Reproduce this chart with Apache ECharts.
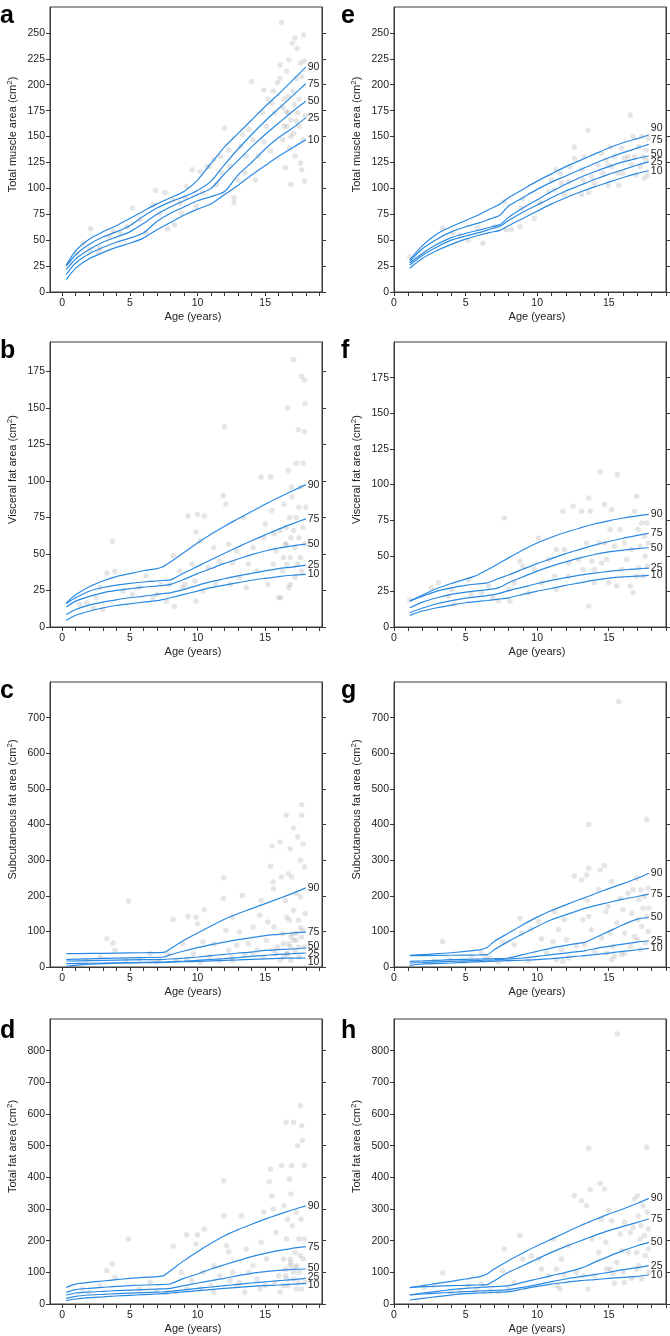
<!DOCTYPE html>
<html>
<head>
<meta charset="utf-8">
<script src="https://cdn.jsdelivr.net/npm/echarts@6/dist/echarts.min.js"></script>
<style>
  html, body { margin: 0; padding: 0; background: #fff; }
  #chart { width: 670px; height: 1336px; }
</style>
</head>
<body>
<div id="chart"></div>
<script>
// percentile names, drawn as end labels
const pctNames = ['90', '75', '50', '25', '10']

// tick values
const xTickAges = [0, 1, 2, 3, 4, 5, 6, 7, 8, 9, 10, 11, 12, 13, 14, 15, 16, 17, 18, 19]
const xLabelAges = [0, 5, 10, 15]
const muscleTicks = [0, 25, 50, 75, 100, 125, 150, 175, 200, 225, 250]
const visceralTicks = [0, 25, 50, 75, 100, 125, 150, 175]
const subcutTicks = [0, 100, 200, 300, 400, 500, 600, 700]
const totalFatTicks = [0, 100, 200, 300, 400, 500, 600, 700, 800]

// a - total muscle area
const aAge = [0.3, 1, 2, 3, 4, 5, 6, 7, 8, 9, 10, 11, 12, 13, 14, 15, 16, 17, 18]
const a90 = [26, 40, 51, 58, 64, 71, 78, 85, 91, 97, 108, 124, 140, 153, 166, 179, 191, 204, 217]
const a75 = [25, 36, 46, 53, 58, 64, 73, 81, 87, 92, 98, 107, 123, 138, 152, 165, 177, 189, 201]
const a50 = [21.5, 32, 41, 48, 53, 58, 66, 75, 82, 88, 94, 100, 114, 127, 140, 152, 163, 174, 184]
const a25 = [17, 28, 37, 43, 48, 52, 57, 68, 76, 82, 88, 92, 97, 113, 125, 138, 149, 158, 168]
const a10 = [12, 23, 32, 38, 43, 47, 52, 60, 67, 74, 80, 85, 94, 103, 113, 122, 131, 139, 147]
const aPts = [
  [2.1, 61], [2.8, 42.5], [2.7, 38.6], [3.5, 52.8], [5.2, 81], [6.2, 57], [6.9, 98], [7.6, 96], [7.8, 61],
  [8.3, 65], [8.7, 86], [9.1, 91], [9.6, 118], [10.2, 116], [9.9, 83], [10.4, 95.5], [10.7, 121], [11.2, 128],
  [11.7, 131], [12.0, 158], [12.3, 137], [12.7, 91], [12.7, 86], [13.0, 108], [13.2, 140.6], [13.5, 115],
  [13.8, 157], [14.0, 203], [14.3, 108], [14.5, 131], [14.8, 173], [14.9, 195], [15.1, 160], [15.2, 186],
  [15.5, 182], [15.6, 194], [15.9, 202], [16.1, 219], [16.2, 260], [16.3, 147], [16.4, 160], [16.5, 120],
  [16.6, 213], [16.7, 173], [16.7, 189], [16.8, 139], [16.9, 166], [17.0, 240], [17.05, 194], [17.1, 153],
  [17.15, 181], [17.2, 245], [17.3, 206], [17.35, 235], [16.9, 104], [17.2, 131], [17.4, 173], [17.5, 160],
  [17.5, 186], [17.6, 124.5], [17.6, 221], [17.7, 208], [17.8, 147], [17.85, 248], [17.9, 223], [17.9, 107],
  [17.95, 170], [17.7, 118], [16.6, 160], [16.4, 186], [16.1, 206], [16.75, 224], [16.55, 174], [15.7, 173],
  [15.4, 136], [14.9, 145], [14.1, 147], [13.6, 131], [13.35, 152], [12.4, 121], [11.8, 115], [11.4, 103.6],
  [10.9, 121], [9.2, 102], [8.8, 76], [8.2, 89], [7.2, 76], [6.7, 84], [5.75, 70], [4.8, 63], [4.3, 57],
  [3.8, 58.6], [2.05, 41], [1.55, 47], [0.6, 28], [1.05, 37.6], [16.3, 178], [17.3, 165], [16.9, 150]
]

// e - total muscle area
const eAge = [1.1, 2, 3, 4, 5, 6, 6.7, 7.4, 8, 9, 10, 11, 12, 13, 14, 15, 16, 17, 17.8]
const e90 = [31, 45, 56, 63, 69, 75, 80, 85, 91, 99, 107, 114, 121, 127, 133, 139, 144, 148, 151.5]
const e75 = [29.5, 42, 51, 58, 63, 67, 70.5, 74, 83, 91, 99, 106, 112, 118, 124, 129.5, 134.5, 139, 142.5]
const e50 = [28, 37.5, 46, 52.5, 56.5, 60, 62.5, 65, 72, 81, 89, 97, 104, 110.5, 116, 121, 125.5, 129, 131.5]
const e25 = [26, 35.5, 43.5, 50, 54, 57.5, 60.5, 63.5, 69, 77, 84, 91, 97.5, 103, 108.5, 113.5, 118, 122.5, 125.5]
const e10 = [23, 32.5, 40, 46, 51, 55, 57.5, 59.5, 64, 71, 78, 85, 91, 96.5, 101.5, 106, 110.5, 114.5, 117]
const ePts = [
  [1.1, 34], [3.4, 61.6], [4.1, 57], [5.2, 50], [6.2, 47], [7.0, 63], [7.7, 87], [7.85, 60], [8.2, 60.6],
  [8.8, 63], [8.9, 81], [9.0, 90], [9.8, 71], [10.2, 86], [10.8, 97], [11.2, 98.5], [11.3, 118], [11.6, 114.6],
  [11.7, 105], [12.2, 106.5], [12.6, 140], [12.6, 129], [13.1, 118], [13.2, 108], [13.3, 130.6], [13.55, 156],
  [13.6, 96], [13.8, 111], [14.0, 105], [14.25, 122.6], [14.5, 134], [14.6, 114.6], [14.8, 127.4], [14.95, 103],
  [15.1, 140], [15.2, 121], [15.4, 130.6], [15.65, 114.6], [15.7, 103], [15.9, 138.6], [16.1, 129], [16.5, 170.7],
  [16.6, 122.6], [16.7, 150], [16.8, 130.6], [16.9, 113], [17.1, 140], [17.2, 121], [17.3, 150], [17.4, 130.6],
  [17.5, 110], [17.6, 137], [17.7, 113], [17.75, 148], [17.6, 127.4], [13.1, 94], [11.9, 94], [11.0, 108],
  [12.3, 121], [14.95, 122.6], [16.0, 114.6], [16.35, 130.6], [4.6, 55], [5.8, 62]
]

// b - visceral fat area
const bAge = [0.3, 1, 2, 3, 4, 5, 6, 7, 7.4, 8, 9, 10, 11, 12, 13, 14, 15, 16, 17, 18]
const b90 = [16.5, 22, 27.5, 31.5, 34.5, 36.5, 38.5, 40, 41, 44.5, 51, 57.5, 63.5, 69, 74, 79, 84, 88.6, 93, 97.4]
const b75 = [16, 20, 24.5, 27, 28.7, 29.9, 30.8, 31.5, 31.8, 32.2, 37, 41.5, 46, 50.5, 54.8, 59, 63, 67, 70.6, 74]
const b50 = [13.6, 17.7, 21, 23.4, 25, 26.2, 27.3, 28, 28.4, 29.2, 32.6, 36.5, 40, 43.5, 46.5, 49.5, 52, 54, 55.5, 56.7]
const b25 = [8.5, 12, 15, 17, 18.6, 20, 21, 22.3, 22.8, 23.4, 25.7, 28.5, 31, 33, 35, 36.7, 38.4, 40, 41, 42.3]
const b10 = [4.4, 8, 10.8, 13, 14.7, 15.8, 17, 18, 18.7, 20, 22.3, 24.6, 26.9, 28.7, 30.3, 32, 33.3, 34.5, 35.4, 36]
const bPts = [
  [3.7, 58.6], [3.9, 38], [3.3, 37], [2.8, 27], [2.5, 20], [1.8, 16.5], [1.3, 15.4], [2.3, 13], [3.0, 12],
  [4.5, 24.6], [5.2, 22.3], [5.7, 27], [6.2, 35], [6.7, 20], [7.0, 22.3], [7.3, 29], [7.7, 17.7], [7.95, 29],
  [8.2, 48.7], [8.3, 14], [8.7, 38.4], [8.9, 27], [9.06, 29], [9.3, 76], [9.6, 43], [9.8, 31.5], [9.9, 65],
  [10.0, 77], [9.9, 17.7], [10.2, 59], [10.4, 24.6], [10.5, 76], [10.8, 40.6], [11.2, 54.4], [11.3, 29],
  [11.65, 45], [11.9, 90], [12.0, 137], [12.1, 84], [12.3, 56.7], [12.4, 29], [12.6, 44], [12.9, 52],
  [13.1, 33.8], [13.4, 75], [13.6, 27], [13.75, 43], [14.1, 54.4], [14.4, 38.4], [14.7, 102.7], [14.9, 61],
  [15.0, 70.5], [15.2, 29], [15.4, 102.7], [15.5, 79.7], [15.6, 43], [15.8, 52], [16.0, 20], [16.1, 66],
  [16.15, 20], [16.3, 38.4], [16.4, 84], [16.5, 56.7], [16.55, 68], [16.6, 43], [16.65, 150], [16.7, 107],
  [16.75, 27], [16.8, 75], [16.85, 47.5], [16.9, 61], [16.95, 95.8], [17.0, 89], [17.1, 66], [17.1, 183],
  [17.2, 33.8], [17.2, 54.4], [17.3, 112], [17.3, 75], [17.4, 43], [17.45, 135], [17.5, 61], [17.5, 82],
  [17.6, 95.8], [17.6, 47.5], [17.7, 171.5], [17.8, 68], [17.8, 112], [17.9, 169], [17.9, 133.7], [17.95, 153],
  [17.95, 56.7], [18.0, 82], [17.7, 38.4], [16.55, 56.7], [16.85, 29], [16.35, 47.5], [15.7, 63.6]
]

// f - visceral fat area
const fAge = [1.1, 2, 3, 4, 5, 5.6, 6.5, 7.3, 8, 9, 10, 11, 12, 13, 14, 15, 16, 17, 17.8]
const f90 = [18.2, 22.5, 27, 30.5, 33.6, 35.5, 40, 44.5, 48.5, 54, 59, 63, 66.5, 69.5, 72.3, 74.5, 76.5, 78, 79]
const f75 = [18.2, 21.7, 25.2, 27.5, 29.2, 30, 31, 34, 36.5, 40.5, 44.5, 48, 51.5, 54.5, 57.5, 60, 62.3, 64.3, 65.8]
const f50 = [13.5, 17.5, 20.5, 22.9, 24.5, 25.2, 26.2, 27.5, 31, 35.2, 39.2, 42.7, 45.7, 48.5, 50.9, 52.7, 54, 55, 55.6]
const f25 = [10, 13.3, 16.3, 18.5, 20.3, 21, 22, 23.4, 25.5, 28, 30.5, 32.7, 34.7, 36.4, 37.8, 39, 40, 40.8, 41.3]
const f10 = [8.2, 11.2, 13.5, 15.4, 17, 17.6, 18.6, 19.6, 20.5, 22.9, 25.2, 27, 29.2, 31, 32.9, 34.3, 35.2, 35.7, 36.2]
const fPts = [
  [1.1, 19], [2.6, 27.5], [3.1, 31], [3.8, 21.7], [4.0, 26.4], [4.2, 15.9], [5.2, 33.4], [5.4, 22.9], [6.1, 24],
  [6.6, 28.7], [6.9, 20.5], [7.3, 18.2], [7.7, 76.5], [8.0, 26.4], [8.1, 18.2], [8.4, 31], [8.8, 46.2],
  [9.0, 42.7], [9.4, 24], [9.8, 40.4], [10.1, 62.5], [10.3, 31], [10.8, 47.4], [11.2, 35.7], [11.35, 54.4],
  [11.35, 26.4], [11.8, 81.2], [11.9, 54.4], [12.2, 35.7], [12.5, 84.7], [12.9, 47.4], [13.1, 81.2], [13.2, 40.4],
  [13.45, 59], [13.6, 14.7], [13.6, 90.5], [13.7, 81.2], [13.8, 46.2], [14.0, 31], [14.3, 59], [14.4, 109],
  [14.5, 45], [14.7, 85.9], [14.7, 59], [14.85, 47.4], [15.0, 31], [15.1, 68.4], [15.2, 82.4], [15.4, 56.7],
  [15.55, 28.7], [15.6, 106.9], [15.8, 68.4], [15.9, 40.4], [16.1, 59], [16.25, 47.4], [16.5, 28.7], [16.6, 54.4],
  [16.7, 24], [16.8, 81.2], [16.95, 91.7], [17.05, 68.4], [17.1, 41.5], [17.2, 56.7], [17.3, 73], [17.4, 35.7],
  [17.5, 63.7], [17.55, 49.7], [17.65, 73], [17.7, 42.7], [17.75, 59], [16.95, 35.7], [14.0, 40.4], [12.2, 45]
]

// c - subcutaneous fat area
const cAge = [0.3, 2, 4, 6, 7.5, 8, 9, 10, 11, 12, 13, 14, 15, 16, 17, 18]
const c90 = [37.4, 38, 39, 40, 41, 51.5, 75, 95.5, 115, 134, 150, 164, 178, 192, 206, 222]
const c75 = [21.5, 23, 25, 26.5, 28, 34.6, 45, 54.3, 62.7, 70, 76.7, 82.4, 88, 91.7, 95.5, 98]
const c50 = [16.8, 18, 19.5, 20.5, 21.5, 22.5, 25, 28, 31.8, 35.6, 39.3, 42, 46.8, 48.7, 50.5, 53.3]
const c25 = [9.4, 10.5, 12, 13, 14, 14.8, 16.5, 18.7, 21, 23.4, 26.5, 30, 32.8, 35.6, 37.4, 39.3]
const c10 = [1.9, 8, 10.5, 12, 13, 13.5, 14.7, 16, 17.3, 18.7, 20, 21.5, 23, 24.3, 25, 25.3]
const cPts = [
  [3.3, 79.5], [3.75, 67.4], [3.9, 46.8], [4.9, 185], [2.8, 28], [1.8, 18.7], [5.7, 23.4], [6.5, 37.4],
  [7.2, 20.6], [7.8, 37.4], [8.2, 133], [8.4, 18.7], [8.9, 65.5], [9.3, 142], [9.7, 37.4], [9.9, 140],
  [10.0, 121.7], [10.2, 14], [10.4, 70], [10.5, 161], [10.9, 28], [11.2, 65.5], [11.65, 18.7], [11.95, 250.8],
  [11.9, 192], [12.1, 103], [12.3, 46.8], [12.5, 28], [12.6, 140], [12.9, 61], [13.1, 98], [13.3, 201],
  [13.5, 32.8], [13.75, 65.5], [14.1, 112], [14.4, 46.8], [14.6, 145], [14.7, 187], [14.9, 28], [15.1, 75],
  [15.2, 126], [15.4, 282.6], [15.5, 339.7], [15.6, 238.6], [15.6, 220], [15.65, 112], [15.8, 37.4], [15.9, 56],
  [16.1, 351], [16.2, 252.7], [16.3, 93.6], [16.35, 28], [16.5, 187], [16.55, 425.8], [16.6, 140], [16.65, 37.4],
  [16.7, 262], [16.75, 65.5], [16.8, 131], [16.85, 332], [16.9, 18.7], [16.95, 252.7], [17.0, 93.6], [17.1, 390],
  [17.1, 159], [17.2, 46.8], [17.3, 206], [17.3, 75], [17.4, 365], [17.45, 131], [17.5, 28], [17.6, 196.5],
  [17.6, 299.5], [17.7, 455.7], [17.7, 425.8], [17.8, 346], [17.8, 103], [17.9, 280.7], [17.9, 56], [17.95, 150],
  [17.7, 84], [17.45, 56], [16.85, 56], [16.35, 65.5], [17.1, 75], [16.6, 37.4], [16.1, 18.7], [15.6, 46.8],
  [14.1, 37.4], [12.6, 18.7], [9.2, 23.4], [7.0, 14], [4.7, 18.7], [17.3, 95], [16.9, 85], [17.6, 110]
]

// g - subcutaneous fat area
const gAge = [1.1, 2, 4, 6, 6.2, 6.5, 7, 8, 9, 10, 11, 12, 13, 13.3, 14, 15, 16, 17, 17.8]
const g90 = [32.7, 35, 40, 48, 50.4, 55, 71.9, 95.2, 118.5, 140, 158.7, 174.5, 190, 194, 205, 220, 234, 249, 263]
const g75 = [31.7, 32, 33, 34, 34.2, 34.5, 48.5, 71.9, 93.3, 113.9, 132.5, 146.5, 160.5, 164.5, 171.7, 181, 190.4, 197.9, 204.4]
const g50 = [15.9, 17, 20.5, 22.4, 22.6, 22.9, 23.5, 25.2, 34.5, 43.9, 53.2, 60.7, 67.2, 69, 81.2, 99.9, 118.5, 134.4, 139]
const g25 = [11.2, 12.5, 15.9, 18.7, 19, 19.3, 20, 22.4, 25.2, 29.9, 34.5, 39.2, 43.9, 45.5, 51.3, 57.9, 64.4, 70, 73.7]
const g10 = [4.7, 8.4, 11.2, 14.9, 15.2, 15.5, 16.3, 17.7, 19, 20.5, 23.3, 27, 30.8, 32, 34.5, 39.2, 43.9, 48.5, 52.3]
const gPts = [
  [3.4, 71.9], [3.9, 20.5], [2.8, 15.9], [4.9, 15.9], [5.4, 29.9], [6.1, 39.2], [6.7, 25.2], [7.3, 13],
  [7.6, 71.9], [8.0, 20.5], [8.4, 62.5], [8.8, 137], [8.9, 95], [9.4, 15.9], [9.6, 106.4], [10.1, 128],
  [10.3, 78.4], [10.65, 39.2], [11.1, 71.9], [11.2, 155.9], [11.35, 20.5], [11.5, 104.5], [11.7, 48.5],
  [11.8, 15.9], [11.9, 132.5], [12.05, 76.5], [12.2, 25.2], [12.6, 255.7], [12.75, 59.7], [13.1, 244.5],
  [13.2, 132.5], [13.3, 62.5], [13.45, 258.5], [13.5, 186.7], [13.6, 400], [13.6, 277], [13.6, 142],
  [13.8, 104.5], [14.0, 43.9], [14.3, 216.5], [14.4, 272.5], [14.5, 81.2], [14.7, 284.7], [14.8, 155.9],
  [14.85, 39.2], [14.95, 170], [15.1, 95.2], [15.2, 240], [15.3, 57.9], [15.4, 29.9], [15.55, 123.2],
  [15.7, 745], [15.8, 193], [15.9, 34.5], [16.0, 160.5], [16.1, 95.2], [16.35, 207], [16.5, 57.9], [16.6, 151],
  [16.7, 216.5], [16.8, 85.9], [16.95, 249], [17.05, 132.5], [17.1, 188.5], [17.2, 48.5], [17.25, 216.5],
  [17.3, 113.9], [17.4, 165], [17.5, 197.9], [17.55, 67.2], [17.65, 141.9], [17.65, 414], [17.75, 221],
  [17.75, 100], [17.8, 165], [17.0, 76.5], [16.1, 39.2], [15.2, 20.5], [5.8, 18], [6.4, 30]
]

// d - total fat area
const dAge = [0.3, 1, 2, 3, 4, 5, 6, 7, 7.5, 8, 9, 10, 11, 12, 13, 14, 15, 16, 17, 18]
const d90 = [52.6, 63, 68.4, 72.6, 76.8, 81, 84.2, 86.3, 89.5, 105, 137, 165, 191.6, 215.8, 235, 252, 268, 283, 297, 310]
const d75 = [36.8, 45.3, 49.5, 52.6, 55.8, 57.9, 60, 61, 61.5, 64, 81, 94.7, 110.5, 124, 136.8, 149.5, 160, 168.4, 175.8, 181]
const d50 = [28.4, 34.7, 37.9, 40, 42, 43.7, 45.3, 47, 48, 49.5, 57.9, 66.3, 73.7, 81, 89.5, 96.8, 102, 106.3, 109.5, 110.5]
const d25 = [17.9, 24.2, 28.4, 30.5, 32.6, 34.2, 35.8, 37.5, 38.5, 40, 44.7, 49.5, 53.7, 57.9, 62, 66.3, 70, 73.7, 76.8, 81]
const d10 = [10.5, 15.8, 20, 22.6, 25.3, 27.4, 29.5, 31.5, 32.5, 34.7, 38.3, 42, 45.7, 49.5, 52.6, 55.8, 58, 60, 62.6, 65.3]
const dPts = [
  [3.3, 105], [3.7, 126], [3.9, 84], [4.9, 205], [2.8, 58], [2.0, 37], [1.5, 47], [5.7, 47], [6.5, 68],
  [7.0, 42], [7.7, 37], [8.2, 182], [8.4, 37], [8.8, 100], [9.2, 218], [9.55, 74], [9.9, 189.5], [10.0, 218],
  [10.2, 47], [10.4, 100], [10.5, 237], [11.0, 58], [11.2, 121], [11.65, 89.5], [11.95, 389.5], [11.95, 279],
  [12.15, 184], [12.3, 165], [12.4, 74], [12.6, 100], [12.9, 58], [13.1, 68], [13.25, 279], [13.5, 37],
  [13.6, 174], [13.8, 100], [14.1, 121], [14.4, 79], [14.7, 195], [14.9, 289.5], [15.0, 58], [15.1, 142],
  [15.3, 386], [15.4, 426], [15.5, 342], [15.6, 300], [15.7, 68], [15.8, 226], [16.0, 89.5], [16.1, 37],
  [16.2, 437], [16.35, 142], [16.4, 310.5], [16.5, 89.5], [16.55, 573.7], [16.6, 205], [16.65, 268], [16.7, 58],
  [16.8, 395], [16.85, 121], [16.9, 347], [16.95, 437], [17.0, 247], [17.1, 79], [17.1, 573.7], [17.2, 163],
  [17.3, 289.5], [17.3, 47], [17.4, 500], [17.5, 205], [17.5, 100], [17.6, 626], [17.65, 268], [17.7, 563],
  [17.75, 516], [17.8, 142], [17.9, 437], [17.9, 205], [17.95, 68], [17.6, 153], [17.35, 121], [16.85, 142],
  [16.6, 79], [16.35, 58], [17.1, 100], [17.45, 68], [17.7, 47], [14.6, 47], [11.2, 37], [9.2, 47], [16.9, 130],
  [17.2, 115], [16.5, 110]
]

// h - total fat area
const hAge = [1.1, 2, 3, 4, 5, 6, 6.2, 6.5, 7, 8, 9, 10, 11, 12, 13, 13.5, 14, 15, 16, 17, 17.8]
const h90 = [51.6, 57.9, 65.3, 71.6, 79, 86.3, 89.5, 95, 110.5, 136.8, 161, 184, 205, 226, 247, 256.5, 266, 284, 300, 318, 333.7]
const h75 = [51.6, 54.7, 56.3, 57.9, 59, 60, 60.3, 61, 73.7, 100, 121, 142, 163, 182, 199, 207.5, 216, 231.6, 245, 258, 268.4]
const h50 = [28.4, 34.7, 40, 45.3, 49.5, 52.6, 53, 53.6, 54.7, 57.9, 68.4, 79, 89.5, 100, 112.6, 121, 131.6, 150.5, 168.4, 184, 194.7]
const h25 = [28.4, 31.6, 34.2, 36.8, 39, 41, 41.4, 42, 43, 45.3, 52.6, 61, 70.5, 79, 86.3, 89.5, 92.6, 100, 108.4, 114.7, 121]
const h10 = [12.6, 17.9, 23.2, 28.4, 32.6, 34.7, 35.1, 35.6, 36.8, 38.9, 47.4, 55.8, 63, 68.4, 73.7, 75.3, 76.8, 81, 84.2, 87.4, 91.6]
const hPts = [
  [3.4, 98], [2.8, 58], [2.1, 52.6], [4.0, 31.6], [5.2, 58], [6.1, 63], [6.7, 42], [7.3, 37], [7.7, 173.7],
  [7.6, 105], [8.0, 47], [8.4, 68], [8.8, 216], [9.0, 142], [9.6, 152.6], [10.1, 142], [10.3, 110.5], [10.8, 89.5],
  [11.2, 205], [11.35, 110.5], [11.4, 58], [11.6, 47], [11.7, 142], [11.9, 89.5], [12.2, 184], [12.6, 342],
  [12.75, 100], [13.1, 326], [13.2, 89.5], [13.45, 310.5], [13.6, 491.6], [13.55, 47], [13.7, 361], [13.8, 205],
  [14.0, 89.5], [14.3, 163], [14.4, 381], [14.5, 268], [14.7, 363], [14.8, 195], [14.85, 110.5], [15.0, 295],
  [15.1, 110.5], [15.2, 263], [15.3, 94.7], [15.4, 65.3], [15.55, 131.6], [15.6, 852.6], [15.8, 221], [15.9, 168.4],
  [16.0, 100], [16.1, 258], [16.35, 163], [16.5, 226], [16.6, 81], [16.7, 242], [16.8, 331.6], [16.95, 163],
  [17.0, 342], [17.05, 279], [17.1, 121], [17.2, 205], [17.25, 247], [17.3, 79], [17.4, 310.5], [17.5, 216],
  [17.55, 152.6], [17.65, 494.7], [17.7, 289.5], [17.75, 237], [17.75, 173.7], [17.8, 100], [16.95, 110.5],
  [16.1, 68], [5.8, 45], [4.6, 40]
]

const panels = [
  { id: 'a', col: 0, row: 0, age: aAge, curves: [a90, a75, a50, a25, a10], pts: aPts, yMax: 275, yTicks: muscleTicks, yName: 'Total muscle area' },
  { id: 'b', col: 0, row: 1, age: bAge, curves: [b90, b75, b50, b25, b10], pts: bPts, yMax: 195, yTicks: visceralTicks, yName: 'Visceral fat area' },
  { id: 'c', col: 0, row: 2, age: cAge, curves: [c90, c75, c50, c25, c10], pts: cPts, yMax: 800, yTicks: subcutTicks, yName: 'Subcutaneous fat area' },
  { id: 'd', col: 0, row: 3, age: dAge, curves: [d90, d75, d50, d25, d10], pts: dPts, yMax: 900, yTicks: totalFatTicks, yName: 'Total fat area' },
  { id: 'e', col: 1, row: 0, age: eAge, curves: [e90, e75, e50, e25, e10], pts: ePts, yMax: 275, yTicks: muscleTicks, yName: 'Total muscle area' },
  { id: 'f', col: 1, row: 1, age: fAge, curves: [f90, f75, f50, f25, f10], pts: fPts, yMax: 200, yTicks: visceralTicks, yName: 'Visceral fat area' },
  { id: 'g', col: 1, row: 2, age: gAge, curves: [g90, g75, g50, g25, g10], pts: gPts, yMax: 800, yTicks: subcutTicks, yName: 'Subcutaneous fat area' },
  { id: 'h', col: 1, row: 3, age: hAge, curves: [h90, h75, h50, h25, h10], pts: hPts, yMax: 900, yTicks: totalFatTicks, yName: 'Total fat area' }
]

// 布局和样式
const FONT = 'Liberation Sans, Arial, Helvetica, sans-serif'
const colLeft = [50, 394]
const rowTop = [7, 342, 682, 1019]
const gridW = 272
const gridH = 285
const xRange = [[-0.9, 19.2], [0, 19]]
const letterY = [16, 351, 691, 1031]
const letterX = [0, 341]
const axisColor = '#3a3a3a'
const textColor = '#222'
const lineColor = '#2a8ae2'
// end label vertical nudges (px) where labels were spread apart
const labelShift = { e: [-7, -4, -2, 0, 0], c: [0, 0, -2, 1.5, 4], d: [0, 0, -1, -1, 1.5] }

const chart = echarts.init(document.getElementById('chart'))

const grids = []
const xAxes = []
const yAxes = []
const series = []
const graphics = []

panels.forEach((p, i) => {
  grids.push({
    left: colLeft[p.col],
    top: rowTop[p.row],
    width: gridW,
    height: gridH,
    show: true,
    borderColor: axisColor,
    borderWidth: 1,
    backgroundColor: 'transparent',
    containLabel: false,
    outerBoundsMode: 'none'
  })
  xAxes.push({
    gridIndex: i,
    type: 'value',
    min: xRange[p.col][0],
    max: xRange[p.col][1],
    axisLine: { show: true, onZero: false, lineStyle: { color: axisColor, width: 1 } },
    axisTick: { show: true, length: 4, customValues: xTickAges, lineStyle: { color: axisColor } },
    axisLabel: { customValues: xLabelAges, margin: 6, fontSize: 10.5, color: textColor, fontFamily: FONT },
    splitLine: { show: false },
    name: 'Age (years)',
    nameLocation: 'middle',
    nameGap: 19,
    nameTextStyle: { fontSize: 11, color: textColor, fontFamily: FONT, padding: [0, 0, 0, 14] }
  })
  yAxes.push({
    gridIndex: i,
    type: 'value',
    min: 0,
    max: p.yMax,
    axisLine: { show: true, onZero: false, lineStyle: { color: axisColor, width: 1 } },
    axisTick: { show: true, length: 4, customValues: p.yTicks, lineStyle: { color: axisColor } },
    axisLabel: { customValues: p.yTicks, margin: 5, fontSize: 10.5, color: textColor, fontFamily: FONT },
    splitLine: { show: false },
    name: '{t|' + p.yName + ' (cm}{s|2}{t|)}',
    nameLocation: 'middle',
    nameGap: 30,
    nameTextStyle: {
      padding: [0, 0, 0, 30],
      rich: {
        t: { fontSize: 11, color: textColor, fontFamily: FONT, lineHeight: 14 },
        s: { fontSize: 8, color: textColor, fontFamily: FONT, verticalAlign: 'top', lineHeight: 9 }
      }
    }
  })
  // mirrored ticks on the right side
  yAxes.push({
    gridIndex: i,
    type: 'value',
    position: 'right',
    min: 0,
    max: p.yMax,
    axisLine: { show: true, onZero: false, lineStyle: { color: axisColor, width: 1 } },
    axisTick: { show: true, length: 4, customValues: p.yTicks, lineStyle: { color: axisColor } },
    axisLabel: { show: false },
    splitLine: { show: false }
  })

  series.push({
    type: 'scatter',
    xAxisIndex: i,
    yAxisIndex: 2 * i,
    data: p.pts,
    symbolSize: 5.5,
    silent: true,
    itemStyle: { color: 'rgba(140,140,140,0.28)' },
    z: 1
  })

  const shifts = labelShift[p.id] || [0, 0, 0, 0, 0]
  p.curves.forEach((c, k) => {
    series.push({
      type: 'line',
      xAxisIndex: i,
      yAxisIndex: 2 * i,
      data: p.age.map((a, j) => [a, c[j]]),
      showSymbol: false,
      smooth: 0.25,
      silent: true,
      lineStyle: { color: lineColor, width: 1.2 },
      endLabel: {
        show: true,
        formatter: pctNames[k],
        distance: 2,
        offset: [0, shifts[k]],
        fontSize: 10.5,
        color: textColor,
        fontFamily: FONT
      },
      z: 3
    })
  })

  graphics.push({
    type: 'text',
    x: letterX[p.col],
    y: letterY[p.row],
    style: {
      text: p.id,
      fontSize: 25,
      fontWeight: 'bold',
      fontFamily: FONT,
      fill: '#000',
      verticalAlign: 'middle',
      align: 'left'
    }
  })
})

chart.setOption({
  animation: false,
  backgroundColor: '#fff',
  grid: grids,
  xAxis: xAxes,
  yAxis: yAxes,
  series: series,
  graphic: graphics
})

window.addEventListener('resize', function () {
  chart.resize()
})
</script>
</body>
</html>
